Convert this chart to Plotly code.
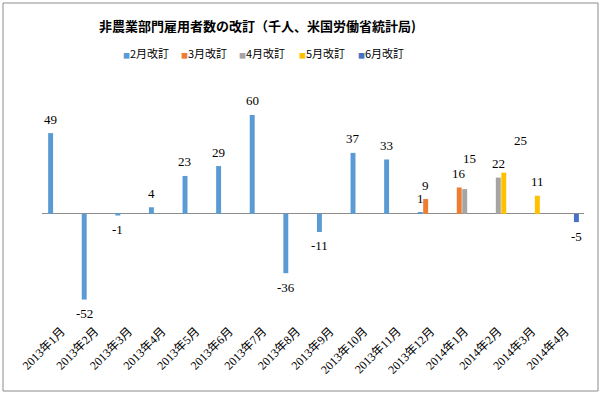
import plotly.graph_objects as go

categories = ["2013年1月", "2013年2月", "2013年3月", "2013年4月", "2013年5月", "2013年6月",
              "2013年7月", "2013年8月", "2013年9月", "2013年10月", "2013年11月", "2013年12月",
              "2014年1月", "2014年2月", "2014年3月", "2014年4月"]
series_names = ["2月改訂", "3月改訂", "4月改訂", "5月改訂", "6月改訂"]
rev_feb = [49, -52, -1, 4, 23, 29, 60, -36, -11, 37, 33, 1, None, None, None, None]
rev_mar = [None] * 11 + [9, 16, None, None, None]
rev_apr = [None] * 12 + [15, 22, None, None]
rev_may = [None] * 13 + [25, 11, None]
rev_jun = [None] * 15 + [-5]
series_values = [rev_feb, rev_mar, rev_apr, rev_may, rev_jun]

colors = ["#5B9BD5", "#ED7D31", "#A5A5A5", "#FFC000", "#4472C4"]

W, H = 604, 398
ML, MR, MT, MB = 42, 20, 82, 77
PW, PH = W - ML - MR, H - MT - MB

def px_x(p):
    return (p - ML) / PW

def px_y(p):
    return (H - MB - p) / PH

fig = go.Figure()
for name, vals, col in zip(series_names, series_values, colors):
    fig.add_trace(go.Bar(x=categories, y=vals, name=name, marker_color=col,
                         marker_line_width=0, showlegend=False))

# data labels
slot = 5.5
extra = {(2, 12): (5, 17), (3, 13): (17, 18)}  # manually moved labels in reference
annotations = []
for si, vals in enumerate(series_values):
    for ci, v in enumerate(vals):
        if v is None:
            continue
        dx, dy = extra.get((si, ci), (0, 0))
        annotations.append(dict(
            x=categories[ci], y=v, xref="x", yref="y", text=str(v), showarrow=False,
            xshift=(si - 2) * slot + dx, yshift=(14 + dy) if v >= 0 else -14,
            font=dict(family="Liberation Serif, Noto Sans CJK JP", size=13, color="#000000"),
            xanchor="center", yanchor="middle"))

# legend (as text annotations for Excel-like compact spacing)
legend_px = [121, 179, 237, 297, 356]
for name, col, lx in zip(series_names, colors, legend_px):
    annotations.append(dict(
        x=px_x(lx), y=px_y(53), xref="paper", yref="paper", showarrow=False,
        xanchor="left", yanchor="middle",
        text=f'<span style="color:{col};font-size:7px">■</span>{name}',
        font=dict(family="Noto Sans CJK JP", size=11, color="#000000")))

# title
annotations.append(dict(
    x=px_x(257), y=px_y(25), xref="paper", yref="paper", showarrow=False,
    xanchor="center", yanchor="middle",
    text="<b>非農業部門雇用者数の改訂（千人、米国労働省統計局)</b>",
    font=dict(family="Noto Sans CJK JP", size=13, color="#000000")))

fig.update_layout(
    width=W, height=H,
    margin=dict(l=ML, r=MR, t=MT, b=MB, pad=0),
    paper_bgcolor="white", plot_bgcolor="white",
    barmode="group", bargap=0.19, bargroupgap=0.09,
    annotations=annotations,
    showlegend=False,
    shapes=[dict(type="rect", xref="paper", yref="paper",
                 x0=px_x(3), x1=px_x(598), y0=px_y(391), y1=px_y(3),
                 line=dict(color="#8C8C8C", width=1), fillcolor="rgba(0,0,0,0)", layer="below")],
)
fig.update_xaxes(
    type="category", tickangle=-45, showgrid=False, showline=False, ticks="",
    tickfont=dict(family="Liberation Serif, Noto Sans CJK JP", size=12, color="#000000"),
)
fig.update_yaxes(
    range=[-65, 80], showgrid=False, showticklabels=False, ticks="",
    zeroline=True, zerolinecolor="#8C8C8C", zerolinewidth=1, showline=False,
)

fig.write_html("out.html", config={"displayModeBar": False},
               post_script="document.body.style.margin='0';document.body.style.overflow='hidden';")
